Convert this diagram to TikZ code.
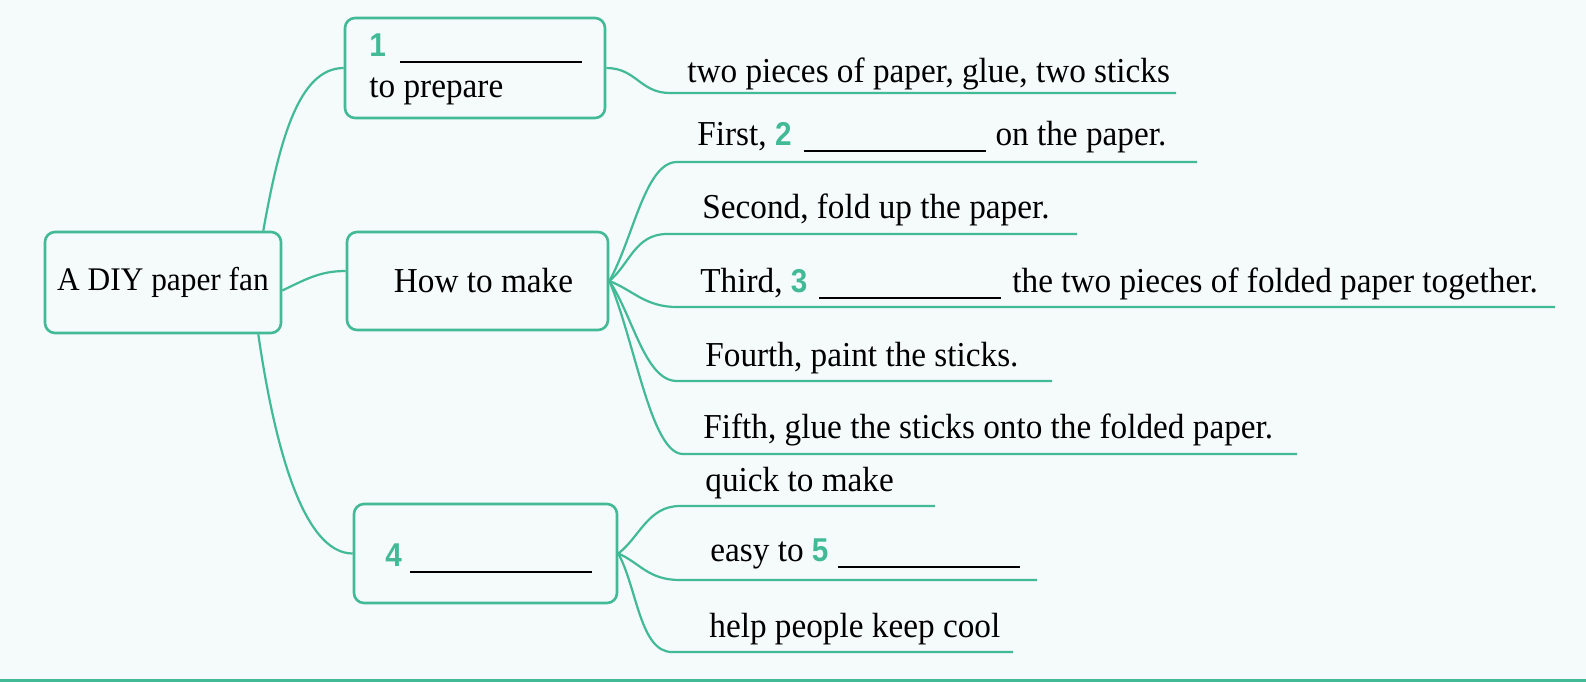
\documentclass[tikz,border=0pt]{standalone}
\usepackage{fontspec}
\setmainfont{Liberation Serif}[FakeStretch=0.95]
\newfontfamily\numfont{Liberation Sans}[FakeStretch=0.9]
\usetikzlibrary{calc,positioning}
\definecolor{fan}{RGB}{66,186,150}
\definecolor{paper}{RGB}{245,251,250}
\newcommand{\gapno}[1]{{\numfont\bfseries\fontsize{16.5}{17}\selectfont\color{fan}#1}}
\newcommand{\blankline}{\rule[-3.5pt]{91pt}{0.8pt}}

\begin{document}
\begin{tikzpicture}[
  x=0.5pt, y=-0.5pt,
  every node/.style={font=\fontsize{17.5}{21}\selectfont},
  box/.style={draw=fan, line width=1.3pt, rounded corners=5pt, fill=paper,
              inner sep=0pt},
  branch/.style={draw=fan, line width=1.1pt},
  item/.style={anchor=base west, inner sep=0pt}
]

\fill[paper] (0,0) rectangle (1586,682);
\useasboundingbox (0,0) rectangle (1586,682);

% Boxes
\node[box, minimum width=118pt, minimum height=50.5pt,
      font=\fontsize{16.5}{20}\selectfont] (root) at (163,282.5) {A DIY paper fan};
\node[box, minimum width=130pt, minimum height=50pt] (prep) at (475,68) {};
\node[box, minimum width=130.5pt, minimum height=49pt] (make) at (477.5,281) {\hspace{6pt}How to make};
\node[box, minimum width=131.5pt, minimum height=49.5pt] (feat) at (485.5,553.5) {};

\node[item] (prepq) at (369,56) {\gapno{1}\hspace{7pt}\blankline};
\node[item] (prept) at (369,97) {to prepare};
\node[item] (featq) at (385,566) {\gapno{4}\hspace{4pt}\blankline};

% Root connectors
\draw[branch] ($(root.north east)+(-19,0)$) .. controls +(16,-90) and +(-45,0) .. (prep.west);
\draw[branch] ($(root.east)+(0,8)$) .. controls +(25,-12) and +(-25,0) .. ($(make.west)+(0,-10)$);
\draw[branch] ($(root.south east)+(-24,0)$) .. controls +(16,110) and +(-50,0) .. (feat.west);

% Things to prepare
\coordinate (sprep) at (670,93);
\coordinate (eprep) at (1176,93);
\draw[branch] (prep.east) .. controls +(30,0) and +(-30,0) .. (sprep) -- (eprep);

% Steps
\foreach \n/\ys/\xs/\xe in {first/162/677/1197, second/234/667/1077, third/307/677/1555,
                            fourth/381/677/1052, fifth/454/683/1297} {
  \coordinate (s\n) at (\xs,\ys);
  \coordinate (e\n) at (\xe,\ys);
  \draw[branch] (make.east) .. controls ($(make.east)!0.35!(s\n)$) and +(-32,0) .. (s\n) -- (e\n);
}

% Features
\foreach \n/\ys/\xs/\xe in {quick/506/680/935, easy/580/680/1037, help/652/672/1013} {
  \coordinate (s\n) at (\xs,\ys);
  \coordinate (e\n) at (\xe,\ys);
  \draw[branch] (feat.east) .. controls ($(feat.east)!0.35!(s\n)$) and +(-32,0) .. (s\n) -- (e\n);
}

\node[item] (tprep) at (687,82) {two pieces of paper, glue, two sticks};
\node[item] (tfirst) at (697,145) {First, \gapno{2}\hspace{6pt}\blankline\hspace{5pt}on the paper.};
\node[item] (tsecond) at (702,218) {Second, fold up the paper.};
\node[item] (tthird) at (700,292) {Third, \gapno{3}\hspace{6pt}\blankline\hspace{5.5pt}the two pieces of folded paper together.};
\node[item] (tfourth) at (705,366) {Fourth, paint the sticks.};
\node[item] (tfifth) at (703,438) {Fifth, glue the sticks onto the folded paper.};
\node[item] (tquick) at (705,491) {quick to make};
\node[item] (teasy) at (710,561) {easy to \gapno{5}\hspace{5pt}\blankline};
\node[item] (thelp) at (709,637) {help people keep cool};

% Bottom rule
\draw[fan, line width=1.5pt] (0,680) -- (1586,680);

\end{tikzpicture}
\end{document}
